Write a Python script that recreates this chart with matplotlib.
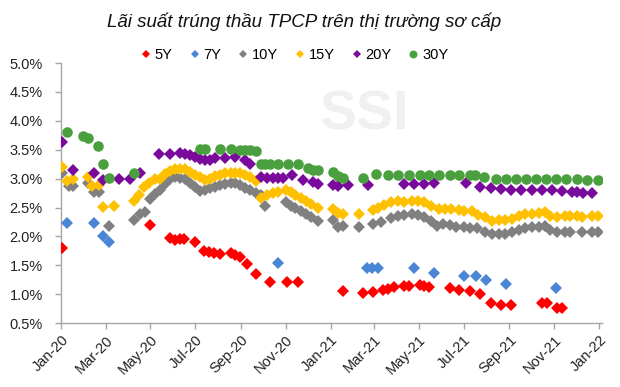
import numpy as np
import pandas as pd
import matplotlib
matplotlib.use("Agg")
import matplotlib.pyplot as plt
import matplotlib.dates as mdates
from matplotlib.ticker import FuncFormatter

plt.rcParams['font.family'] = ['Liberation Sans Narrow', 'Liberation Sans', 'DejaVu Sans']

start = pd.Timestamp('2020-01-01')

# auction dates as days counted from 2020-01-01, yields in %
d5 = [1, 120, 148, 154, 161, 167, 182, 194, 201, 208, 216, 230, 236, 243, 252, 265,
      283, 306, 321, 383, 410, 424, 437, 444, 452, 466, 473, 487, 493, 500, 528, 541,
      555, 569, 584, 597, 611, 653, 660, 674, 681]
y5 = [1.80, 2.20, 1.97, 1.94, 1.95, 1.95, 1.91, 1.75, 1.73, 1.72, 1.70, 1.71, 1.68, 1.65, 1.52, 1.35,
      1.21, 1.21, 1.21, 1.06, 1.03, 1.04, 1.07, 1.09, 1.12, 1.15, 1.15, 1.16, 1.14, 1.13, 1.10, 1.08,
      1.05, 1.00, 0.84, 0.82, 0.82, 0.84, 0.84, 0.76, 0.76]

d7 = [8, 44, 56, 64, 294, 416, 422, 431, 480, 507, 548, 563, 577, 604, 673]
y7 = [2.24, 2.24, 2.01, 1.90, 1.54, 1.45, 1.45, 1.45, 1.45, 1.36, 1.31, 1.31, 1.24, 1.17, 1.10]

d10 = [1, 10, 15, 36, 44, 51, 64, 98, 107, 113, 120, 127, 134, 141, 148, 154, 161, 168, 175,
       182, 189, 195, 202, 209, 216, 223, 230, 236, 243, 250, 257, 264, 271, 277, 305, 312,
       318, 325, 332, 339, 349, 369, 376, 383, 405, 424, 435, 448, 458, 466, 476, 485, 493,
       503, 510, 519, 528, 537, 547, 555, 565, 576, 585, 595, 603, 612, 622, 630, 640, 649,
       658, 664, 674, 684, 692, 708, 722, 729]
y10 = [3.10, 2.88, 2.88, 2.93, 2.77, 2.77, 2.18, 2.28, 2.38, 2.43, 2.64, 2.74, 2.80, 2.90, 3.00,
       3.03, 3.02, 2.99, 2.92, 2.85, 2.78, 2.80, 2.83, 2.86, 2.89, 2.91, 2.93, 2.92, 2.89, 2.84,
       2.80, 2.76, 2.71, 2.52, 2.60, 2.52, 2.50, 2.44, 2.39, 2.33, 2.27, 2.28, 2.16, 2.18, 2.17,
       2.21, 2.25, 2.32, 2.36, 2.37, 2.38, 2.37, 2.34, 2.26, 2.18, 2.22, 2.20, 2.17, 2.16, 2.15,
       2.14, 2.08, 2.05, 2.05, 2.05, 2.08, 2.12, 2.15, 2.16, 2.17, 2.18, 2.11, 2.08, 2.08, 2.08,
       2.08, 2.08, 2.08]

d15 = [1, 8, 15, 36, 42, 51, 57, 72, 98, 105, 112, 119, 127, 134, 141, 148, 154, 161, 168,
       175, 182, 189, 195, 202, 209, 216, 223, 230, 236, 243, 250, 257, 264, 271, 280, 287,
       294, 305, 312, 318, 325, 332, 339, 349, 369, 376, 383, 405, 424, 431, 439, 448, 458,
       466, 476, 485, 493, 503, 513, 521, 530, 540, 548, 558, 567, 576, 585, 595, 603, 612,
       622, 630, 640, 649, 658, 664, 674, 684, 692, 701, 708, 722, 729]
y15 = [3.20, 2.96, 2.99, 3.03, 2.87, 2.89, 2.51, 2.53, 2.62, 2.71, 2.86, 2.93, 2.99, 3.00, 3.08,
       3.14, 3.17, 3.17, 3.16, 3.12, 3.07, 3.03, 2.98, 3.00, 3.04, 3.07, 3.09, 3.10, 3.10, 3.10,
       3.06, 3.03, 2.96, 2.67, 2.72, 2.75, 2.77, 2.80, 2.77, 2.71, 2.66, 2.62, 2.57, 2.50, 2.47,
       2.40, 2.38, 2.38, 2.45, 2.50, 2.54, 2.59, 2.61, 2.60, 2.61, 2.62, 2.60, 2.52, 2.47, 2.48,
       2.47, 2.45, 2.44, 2.44, 2.37, 2.33, 2.27, 2.28, 2.28, 2.31, 2.35, 2.38, 2.39, 2.41, 2.43,
       2.35, 2.34, 2.35, 2.35, 2.35, 2.33, 2.35, 2.35]

d20 = [1, 15, 44, 56, 78, 93, 107, 133, 148, 161, 168, 175, 182, 189, 195, 202, 209, 223,
       236, 250, 257, 271, 280, 287, 294, 301, 313, 328, 342, 349, 369, 376, 390, 417, 466,
       480, 493, 507, 550, 569, 584, 597, 611, 625, 640, 653, 667, 681, 694, 701, 709, 722]
y20 = [3.64, 3.15, 3.09, 2.97, 3.00, 3.00, 3.09, 3.42, 3.43, 3.45, 3.43, 3.41, 3.37, 3.34, 3.33,
       3.33, 3.35, 3.35, 3.38, 3.32, 3.26, 3.03, 3.02, 3.02, 3.02, 3.02, 3.06, 2.97, 2.94, 2.90,
       2.89, 2.87, 2.89, 2.89, 2.90, 2.90, 2.90, 2.92, 2.93, 2.86, 2.83, 2.82, 2.80, 2.80, 2.80,
       2.80, 2.81, 2.78, 2.77, 2.77, 2.75, 2.75]

d30 = [8, 29, 36, 49, 56, 64, 98, 189, 195, 216, 230, 243, 250, 257, 264, 271, 277, 284, 294,
       308, 321, 335, 342, 349, 369, 376, 383, 410, 428, 444, 458, 472, 487, 500, 514, 528,
       541, 555, 562, 574, 591, 604, 618, 632, 645, 659, 673, 686, 701, 715, 729]
y30 = [3.81, 3.73, 3.71, 3.56, 3.26, 3.01, 3.10, 3.51, 3.51, 3.51, 3.51, 3.50, 3.49, 3.49, 3.48,
       3.26, 3.26, 3.26, 3.26, 3.25, 3.25, 3.18, 3.15, 3.15, 3.12, 3.04, 3.02, 3.02, 3.08, 3.06,
       3.06, 3.06, 3.06, 3.06, 3.06, 3.06, 3.06, 3.06, 3.06, 3.03, 2.99, 2.99, 2.99, 2.99, 2.99,
       2.99, 2.99, 2.99, 2.99, 2.97, 2.97]

series = [
    ('5Y', d5, y5, '#FF0000', 'D'),
    ('7Y', d7, y7, '#4A86D6', 'D'),
    ('10Y', d10, y10, '#808080', 'D'),
    ('15Y', d15, y15, '#FFC000', 'D'),
    ('20Y', d20, y20, '#7A0A9C', 'D'),
    ('30Y', d30, y30, '#4AA03E', 'o'),
]

fig = plt.figure(figsize=(6.2, 3.87), dpi=100)
ax = fig.add_axes([0.098, 0.165, 0.873, 0.672])

ax.text(0.56, 0.80, 'SSI', transform=ax.transAxes, fontsize=40, fontweight='bold',
        color='#F0F0F0', ha='center', va='center', zorder=0)

for name, d, y, c, m in series:
    dates = start + pd.to_timedelta(d, unit='D')
    ms = 5.8 if m == 'D' else 7.6
    ax.plot(dates, y, linestyle='none', marker=m, markersize=ms, color=c,
            markeredgewidth=0, label=name, zorder=3)

ax.set_ylim(0.5, 5.0)
ax.set_yticks(np.arange(0.5, 5.01, 0.5))
ax.yaxis.set_major_formatter(FuncFormatter(lambda v, p: f'{v:.1f}%'))
ax.set_xlim(pd.Timestamp('2019-12-31'), pd.Timestamp('2022-01-05'))
ax.xaxis.set_major_locator(mdates.MonthLocator(bymonth=[1, 3, 5, 7, 9, 11]))
ax.xaxis.set_major_formatter(mdates.DateFormatter('%b-%y'))

for s in ['top', 'right']:
    ax.spines[s].set_visible(False)
for s in ['left', 'bottom']:
    ax.spines[s].set_color('#A6A6A6')
    ax.spines[s].set_linewidth(1.0)
ax.tick_params(axis='both', colors='#A6A6A6', labelcolor='#222222', labelsize=10.5,
               length=4, width=1)
ax.tick_params(axis='y', pad=9)
ax.tick_params(axis='x', pad=3)
plt.setp(ax.get_xticklabels(), rotation=45, ha='right', rotation_mode='anchor')

fig.text(0.49, 0.945, 'Lãi suất trúng thầu TPCP trên thị trường sơ cấp', ha='center',
         va='center', fontsize=13.5, style='italic', color='#111111')

leg = ax.legend(loc='center', bbox_to_anchor=(0.43, 1.03), ncol=6, frameon=False,
                fontsize=10.5, handletextpad=0.1, columnspacing=1.0, handlelength=1.0,
                markerscale=0.75, borderpad=0)

fig.savefig('out.png', dpi=100)
